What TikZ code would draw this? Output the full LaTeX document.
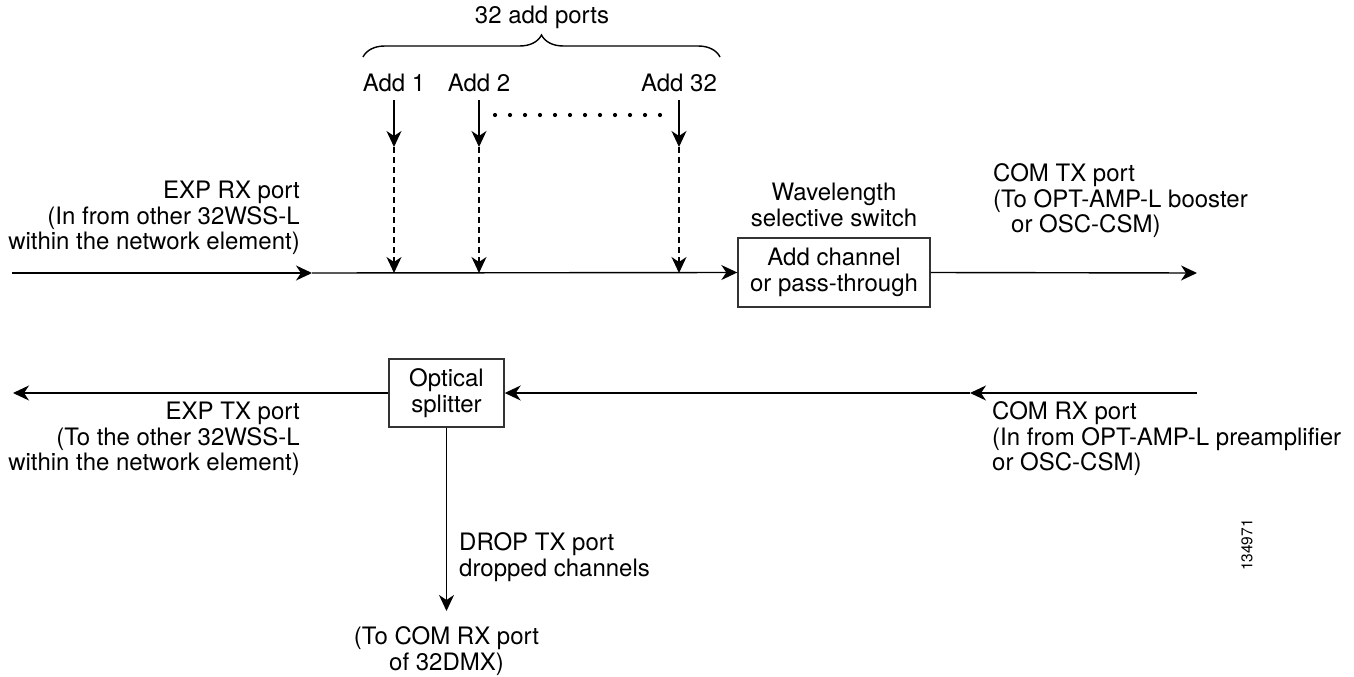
\documentclass[tikz,border=0pt]{standalone}
\usepackage{fontspec}
\setmainfont{TeX Gyre Heros}
\usepackage{tikz}
\usetikzlibrary{arrows.meta,decorations.pathreplacing,calc}
\tikzset{
  flow/.style={-{Stealth[length=16pt,width=15pt,inset=5pt]},line width=1.4pt},  % signal line
  addflow/.style={flow,dash pattern=on 6pt off 4pt},                            % add path into the line
  blk/.style={draw=black!80,line width=1.4pt},                                   % functional block
  txt/.style={inner sep=0pt,align=center,font=\fontsize{24}{25.5}\selectfont},
  brc/.style={decorate,decoration={brace,amplitude=22pt},line width=1.4pt},
}

\begin{document}
\begin{tikzpicture}[x=1pt,y=-1pt]
  \useasboundingbox (0,0) rectangle (1354,677);
  % upper path: EXP RX -> WSS -> COM TX
  \node[txt,blk,minimum width=192pt,minimum height=69pt] (wss) at (834,272.5) {Add channel\\or pass-through};
  \node[txt] (wsslbl) at (834,205) {Wavelength\\selective switch};
  \coordinate (expin) at (12,273);
  \coordinate (expmid) at (312,273);
  \coordinate (comtx) at (1197,273);
  \draw[flow] (expin) -- (expmid);
  \draw[flow] (expmid) -- (wss.west);
  \draw[flow] (wss.east) -- (comtx);
  \node[txt,anchor=east,align=right] (exprx) at (300,218) {EXP RX port\\(In from other 32WSS-L\\within the network element)};
  \node[txt,anchor=west,align=left] (comtxlbl) at (993,201) {COM TX port\\(To OPT-AMP-L booster\\\hspace*{18pt}or OSC-CSM)};
  % add ports
  \foreach \n/\x in {1/394,2/479,32/679}{
    \node[txt] (add\n) at (\x,83) {Add \n};
    \coordinate (addtop\n) at (\x,100);
    \coordinate (addmid\n) at (\x,147);
    \coordinate (addbot\n) at (\x,273);
    \draw[flow] (addtop\n) -- (addmid\n);
    \draw[addflow] (addmid\n) -- (addbot\n);
  }
  \foreach \i in {0,...,11}
    \fill (495+\i*15,115) circle (2.1pt);
  \coordinate (brl) at (363,57);
  \coordinate (brr) at (720,57);
  \draw[brc] (brl) -- (brr);
  \node[txt] (nadd) at (542,17) {32 add ports};
  % lower path: COM RX -> splitter -> EXP TX / DROP TX
  \node[txt,blk,minimum width=115pt,minimum height=68pt] (split) at (446.5,393) {Optical\\splitter};
  \coordinate (comrx) at (1197,393);
  \coordinate (rxmid) at (970,393);
  \coordinate (exptx) at (13,393);
  \coordinate (drop) at (446.5,611);
  \draw[flow] (comrx) -- (rxmid);
  \draw[flow] (rxmid) -- (split.east);
  \draw[flow] (split.west) -- (exptx);
  \draw[flow] (split.south) -- (drop);
  \node[txt,anchor=east,align=right] (exptxlbl) at (300,439) {EXP TX port\\(To the other 32WSS-L\\within the network element)};
  \node[txt,anchor=west,align=left] (comrxlbl) at (992,439) {COM RX port\\(In from OPT-AMP-L preamplifier\\or OSC-CSM)};
  \node[txt,anchor=west,align=left] (droplbl) at (459,557) {DROP TX port\\dropped channels};
  \node[txt] (dmx) at (446.5,651) {(To COM RX port\\of 32DMX)};
  \node[inner sep=0pt,rotate=90,font=\fontsize{15.5}{17}\selectfont] (fig) at (1247,545) {134971};
\end{tikzpicture}
\end{document}
